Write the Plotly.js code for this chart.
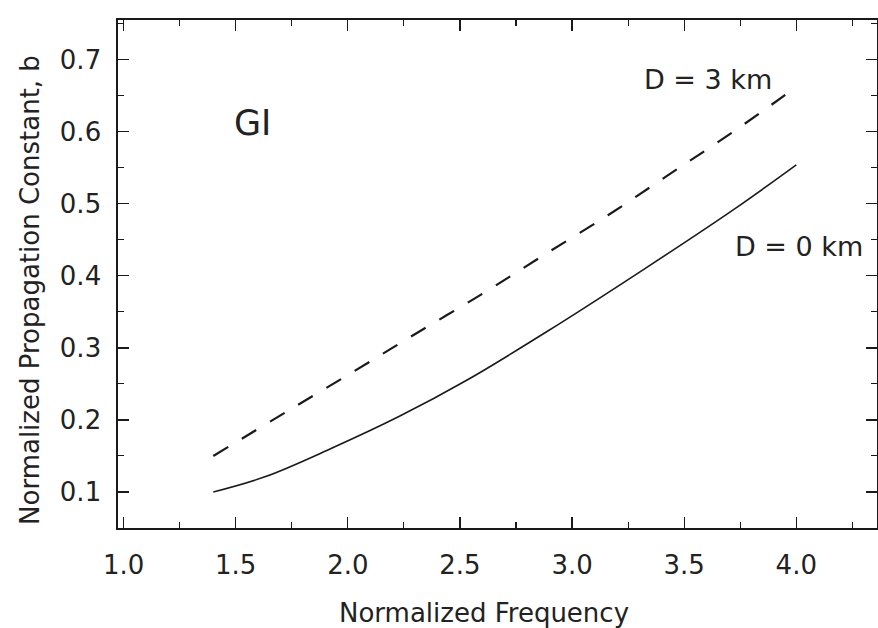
<!DOCTYPE html>
<html>
<head>
<meta charset="utf-8">
<script src="https://cdn.plot.ly/plotly-3.0.1.min.js"></script>
<style>html,body{margin:0;padding:0;background:#fff;}#chart{width:878px;height:628px;}</style>
</head>
<body>
<div id="chart"></div>
<script>
// D = 0 km (solid)
const freq0 = [1.4, 1.63, 1.93, 2.23, 2.53, 2.89, 3.32, 3.73, 4.0];
const b0    = [0.100, 0.121, 0.161, 0.205, 0.255, 0.323, 0.409, 0.494, 0.554];
// D = 3 km (dashed)
const freq3 = [1.4, 1.73, 2.03, 2.31, 2.60, 2.87, 3.16, 3.43, 3.71, 4.0];
const b3    = [0.150, 0.212, 0.268, 0.321, 0.375, 0.428, 0.484, 0.540, 0.598, 0.662];
const xTickVals = [1.0, 1.5, 2.0, 2.5, 3.0, 3.5, 4.0];
const yTickVals = [0.1, 0.2, 0.3, 0.4, 0.5, 0.6, 0.7];
const labels = ["GI", "D = 3 km", "D = 0 km"];
const xTitle = "Normalized Frequency";
const yTitle = "Normalized Propagation Constant, b";

const FONT = "DejaVu Sans, Liberation Sans, Arial, sans-serif";
const INK = "#1a1a1a";
const TXT = "#222";

const traces = [
  {x: freq0, y: b0, mode: "lines", line: {color: INK, width: 1.6, shape: "spline"}, name: "D = 0 km", hoverinfo: "skip"},
  {x: freq3, y: b3, mode: "lines", line: {color: INK, width: 2.2, dash: "17px,16px", shape: "spline"}, name: "D = 3 km", hoverinfo: "skip"}
];

const axisCommon = {
  showgrid: false, zeroline: false, showline: true, linecolor: INK, linewidth: 1.6,
  mirror: "ticks", ticks: "inside", ticklen: 11, tickwidth: 1.3, tickcolor: INK,
  tickfont: {family: FONT, size: 26, color: TXT}
};

const layout = {
  width: 878, height: 628,
  margin: {l: 118, r: 1, t: 20, b: 100},
  paper_bgcolor: "#fff", plot_bgcolor: "#fff",
  showlegend: false,
  xaxis: Object.assign({}, axisCommon, {
    range: [0.975, 4.36], tickvals: xTickVals, ticktext: xTickVals.map(v => v.toFixed(1)),
    ticklabelstandoff: 13,
    minor: {ticks: "inside", ticklen: 6, tickwidth: 1.1, tickcolor: INK, dtick: 0.25, tick0: 1.0, showgrid: false}
  }),
  yaxis: Object.assign({}, axisCommon, {
    range: [0.05, 0.755], tickvals: yTickVals, ticktext: yTickVals.map(v => v.toFixed(1)),
    ticklabelstandoff: 10,
    minor: {ticks: "inside", ticklen: 6, tickwidth: 1.1, tickcolor: INK, dtick: 0.05, tick0: 0.05, showgrid: false}
  }),
  annotations: [
    {x: 1.577, y: 0.612, xref: "x", yref: "y", text: labels[0], showarrow: false, font: {family: FONT, size: 35, color: TXT}},
    {x: 3.607, y: 0.672, xref: "x", yref: "y", text: labels[1], showarrow: false, font: {family: FONT, size: 27, color: TXT}},
    {x: 4.012, y: 0.440, xref: "x", yref: "y", text: labels[2], showarrow: false, font: {family: FONT, size: 27, color: TXT}},
    {x: 0.482, y: -0.167, xref: "paper", yref: "paper", xanchor: "center", yanchor: "middle", text: xTitle, showarrow: false, font: {family: FONT, size: 26, color: TXT}},
    {x: -0.116, y: 0.4685, xref: "paper", yref: "paper", xanchor: "center", yanchor: "middle", textangle: -90, text: yTitle, showarrow: false, font: {family: FONT, size: 26, color: TXT}}
  ]
};

Plotly.newPlot("chart", traces, layout, {displayModeBar: false, staticPlot: true});
</script>
</body>
</html>
